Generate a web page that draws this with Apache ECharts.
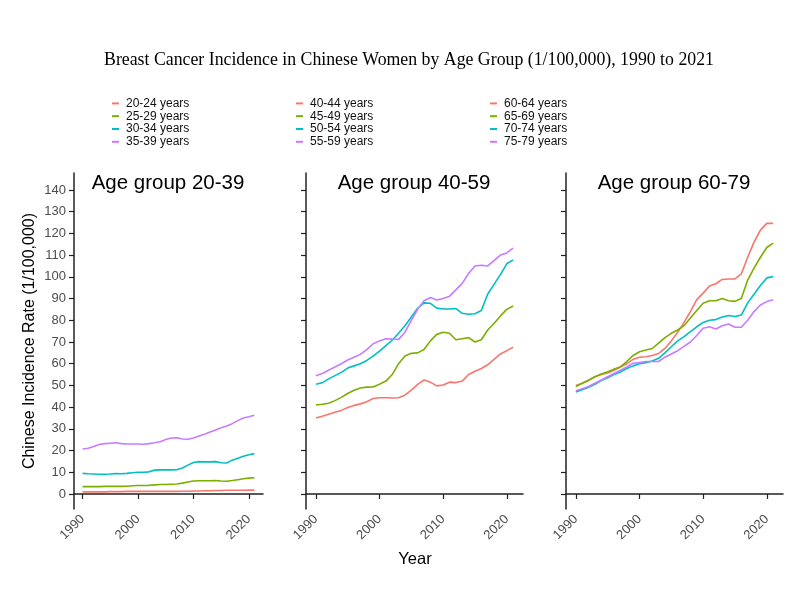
<!DOCTYPE html>
<html>
<head>
<meta charset="utf-8">
<script src="https://cdn.jsdelivr.net/npm/echarts@6/dist/echarts.min.js"></script>
<style>html,body{margin:0;padding:0;background:#fff}#c{width:800px;height:600px}</style>
</head>
<body>
<div id="c"></div>
<script>
var years = [1990,1991,1992,1993,1994,1995,1996,1997,1998,1999,2000,2001,2002,2003,2004,2005,2006,2007,2008,2009,2010,2011,2012,2013,2014,2015,2016,2017,2018,2019,2020,2021];
var yTicks = [0,10,20,30,40,50,60,70,80,90,100,110,120,130,140];
var xTicks = [1990,2000,2010,2020];
var panelTitles = ['Age group 20-39','Age group 40-59','Age group 60-79'];
var groupNames = [
  ['20-24 years','25-29 years','30-34 years','35-39 years'],
  ['40-44 years','45-49 years','50-54 years','55-59 years'],
  ['60-64 years','65-69 years','70-74 years','75-79 years']
];
// Panel 1
var a20_24 = [1.0,1.0,1.0,1.0,1.0,1.1,1.1,1.1,1.2,1.2,1.2,1.2,1.2,1.2,1.2,1.2,1.2,1.2,1.3,1.3,1.4,1.4,1.5,1.5,1.6,1.6,1.7,1.7,1.7,1.7,1.8,1.8];
var a25_29 = [3.4,3.4,3.4,3.4,3.5,3.5,3.5,3.5,3.6,3.8,3.9,3.9,4.0,4.2,4.4,4.4,4.5,4.6,5.0,5.5,6.0,6.1,6.1,6.1,6.2,6.0,5.9,6.2,6.6,7.0,7.3,7.5];
var a30_34 = [9.5,9.3,9.2,9.1,9.1,9.2,9.4,9.3,9.5,9.8,10.0,10.0,10.2,11.0,11.1,11.1,11.1,11.2,12.0,13.3,14.5,14.9,14.8,14.8,14.9,14.4,14.3,15.6,16.5,17.4,18.1,18.6];
var a35_39 = [20.7,21.1,21.9,22.8,23.2,23.4,23.6,23.2,23.0,23.0,23.0,22.9,23.2,23.6,24.1,25.1,25.8,25.9,25.3,25.2,25.8,26.7,27.5,28.5,29.5,30.5,31.3,32.4,33.8,35.0,35.6,36.3];
// Panel 2
var a40_44 = [35.0,35.8,36.7,37.6,38.5,39.8,40.8,41.5,42.5,44.0,44.3,44.3,44.2,44.3,45.5,47.8,50.5,52.5,51.5,49.8,50.2,51.5,51.3,52.0,55.0,56.5,57.8,59.5,62.0,64.5,66.0,67.6];
var a45_49 = [41.0,41.3,41.8,43.0,44.5,46.3,47.8,48.8,49.2,49.3,50.5,52.0,55.0,60.0,63.5,64.8,65.0,66.5,70.5,73.5,74.5,74.0,71.0,71.5,72.0,70.0,71.0,75.5,78.5,82.0,85.0,86.6];
var a50_54 = [50.5,51.2,53.0,54.5,56.0,58.0,59.0,60.0,61.5,63.5,65.8,68.3,70.8,74.0,77.5,81.5,85.5,88.0,87.8,85.6,85.2,85.2,85.4,83.2,82.8,83.0,84.5,92.0,96.5,101.0,106.0,107.8];
var a55_59 = [54.5,55.5,57.0,58.5,60.0,61.7,63.0,64.3,66.5,69.2,70.5,71.5,71.3,71.2,74.5,80.0,85.0,89.0,90.5,89.3,90.0,91.0,94.0,97.0,101.5,105.0,105.3,105.0,107.5,110.0,111.0,113.2];
// Panel 3
var a60_64 = [50.0,51.0,52.5,54.0,55.0,55.7,57.0,58.5,60.0,62.0,63.0,63.2,63.8,64.7,67.0,70.5,74.5,79.0,84.0,89.5,92.5,95.8,96.8,98.8,99.0,99.0,101.3,109.0,116.0,121.5,124.6,124.6];
var a65_69 = [49.5,51.0,52.3,54.0,55.3,56.3,57.5,58.5,61.0,63.8,65.5,66.3,67.0,69.5,72.0,74.0,75.5,77.5,81.0,84.5,87.8,89.0,89.0,90.0,89.0,88.7,90.0,98.5,104.0,109.0,113.5,115.5];
var a70_74 = [47.0,48.0,49.2,50.5,52.2,53.5,55.0,56.2,57.8,59.0,60.0,60.5,61.2,62.5,65.0,67.8,70.5,72.5,74.8,77.0,79.0,80.0,80.3,81.5,82.2,81.7,82.4,88.0,92.0,96.0,99.5,100.1];
var a75_79 = [47.5,48.5,49.5,51.0,52.5,54.0,55.5,57.0,58.5,60.2,60.5,61.0,61.0,61.0,63.0,64.5,66.0,68.0,70.0,73.0,76.3,77.0,76.0,77.5,78.3,76.8,76.8,80.0,84.0,87.0,88.6,89.4];

var groupData = [[a20_24,a25_29,a30_34,a35_39],[a40_44,a45_49,a50_54,a55_59],[a60_64,a65_69,a70_74,a75_79]];
var colors = ['#F8766D','#7CAE00','#00BFC4','#C77CFF'];

var gridLefts = [74, 306, 566];
var gridWidths = [189, 217, 217];
var titleX = [168, 414, 674];
var legendLefts = [107, 291, 485];

var grids = [], xAxes = [], yAxes = [], series = [], legends = [], graphics = [];
var axisColor = '#222';
var sans = 'Liberation Sans, Arial, sans-serif';
for (var p = 0; p < 3; p++) {
  grids.push({left: gridLefts[p], top: 173, width: gridWidths[p], height: 336, containLabel: false});
  xAxes.push({
    type: 'value', gridIndex: p, min: 1988.45, max: 2022.55,
    axisLine: {show: true, lineStyle: {color: axisColor, width: 1.5}},
    axisTick: {show: true, length: 5, lineStyle: {color: axisColor, width: 1.2}, customValues: xTicks},
    axisLabel: {show: true, rotate: 45, color: '#4d4d4d', fontSize: 13, fontFamily: sans, margin: 8, customValues: xTicks,
      formatter: function (v) { return String(v); }},
    splitLine: {show: false}
  });
  yAxes.push({
    type: 'value', gridIndex: p, min: -6.9, max: 147.8,
    axisLine: {show: true, lineStyle: {color: axisColor, width: 1.5}},
    axisTick: {show: true, length: 5, lineStyle: {color: axisColor, width: 1.2}, customValues: yTicks},
    axisLabel: {show: p === 0, color: '#4d4d4d', fontSize: 13, fontFamily: sans, margin: 8, customValues: yTicks,
      formatter: function (v) { return String(v); }},
    splitLine: {show: false}
  });
  for (var s = 0; s < 4; s++) {
    var vals = groupData[p][s];
    series.push({
      name: groupNames[p][s], type: 'line', xAxisIndex: p, yAxisIndex: p,
      showSymbol: false, symbol: 'none', smooth: false,
      lineStyle: {width: 1.6, color: colors[s]}, itemStyle: {color: colors[s]},
      data: years.map(function (y, i) { return [y, vals[i]]; }),
      silent: true, animation: false
    });
  }
  legends.push({
    data: groupNames[p], orient: 'vertical', left: legendLefts[p], top: 92,
    icon: 'rect', itemWidth: 7, itemHeight: 2, itemGap: 0,
    textStyle: {fontSize: 12, color: '#111', fontFamily: sans, lineHeight: 12.8, padding: [0, 0, 0, 2]},
    selectedMode: false
  });
  graphics.push({
    type: 'text', x: titleX[p], y: 183,
    style: {text: panelTitles[p], fill: '#000', fontSize: 20.5, fontFamily: sans, textAlign: 'center', textVerticalAlign: 'middle'}
  });
}
graphics.push({
  type: 'text', x: 409, y: 60,
  style: {text: 'Breast Cancer Incidence in Chinese Women by Age Group (1/100,000), 1990 to 2021', fill: '#000', fontSize: 17.8, fontFamily: 'Liberation Serif, Times New Roman, serif', textAlign: 'center', textVerticalAlign: 'middle'}
});
graphics.push({
  type: 'text', x: 30, y: 341, rotation: Math.PI / 2,
  style: {text: 'Chinese Incidence Rate (1/100,000)', fill: '#000', fontSize: 16, fontFamily: sans, textAlign: 'center', textVerticalAlign: 'middle'}
});
graphics.push({
  type: 'text', x: 415, y: 559,
  style: {text: 'Year', fill: '#000', fontSize: 16.5, fontFamily: sans, textAlign: 'center', textVerticalAlign: 'middle'}
});

var chart = echarts.init(document.getElementById('c'), null, {renderer: 'canvas'});
chart.setOption({
  backgroundColor: '#fff',
  animation: false,
  color: colors,
  grid: grids, xAxis: xAxes, yAxis: yAxes, series: series, legend: legends, graphic: graphics
});
</script>
</body>
</html>
